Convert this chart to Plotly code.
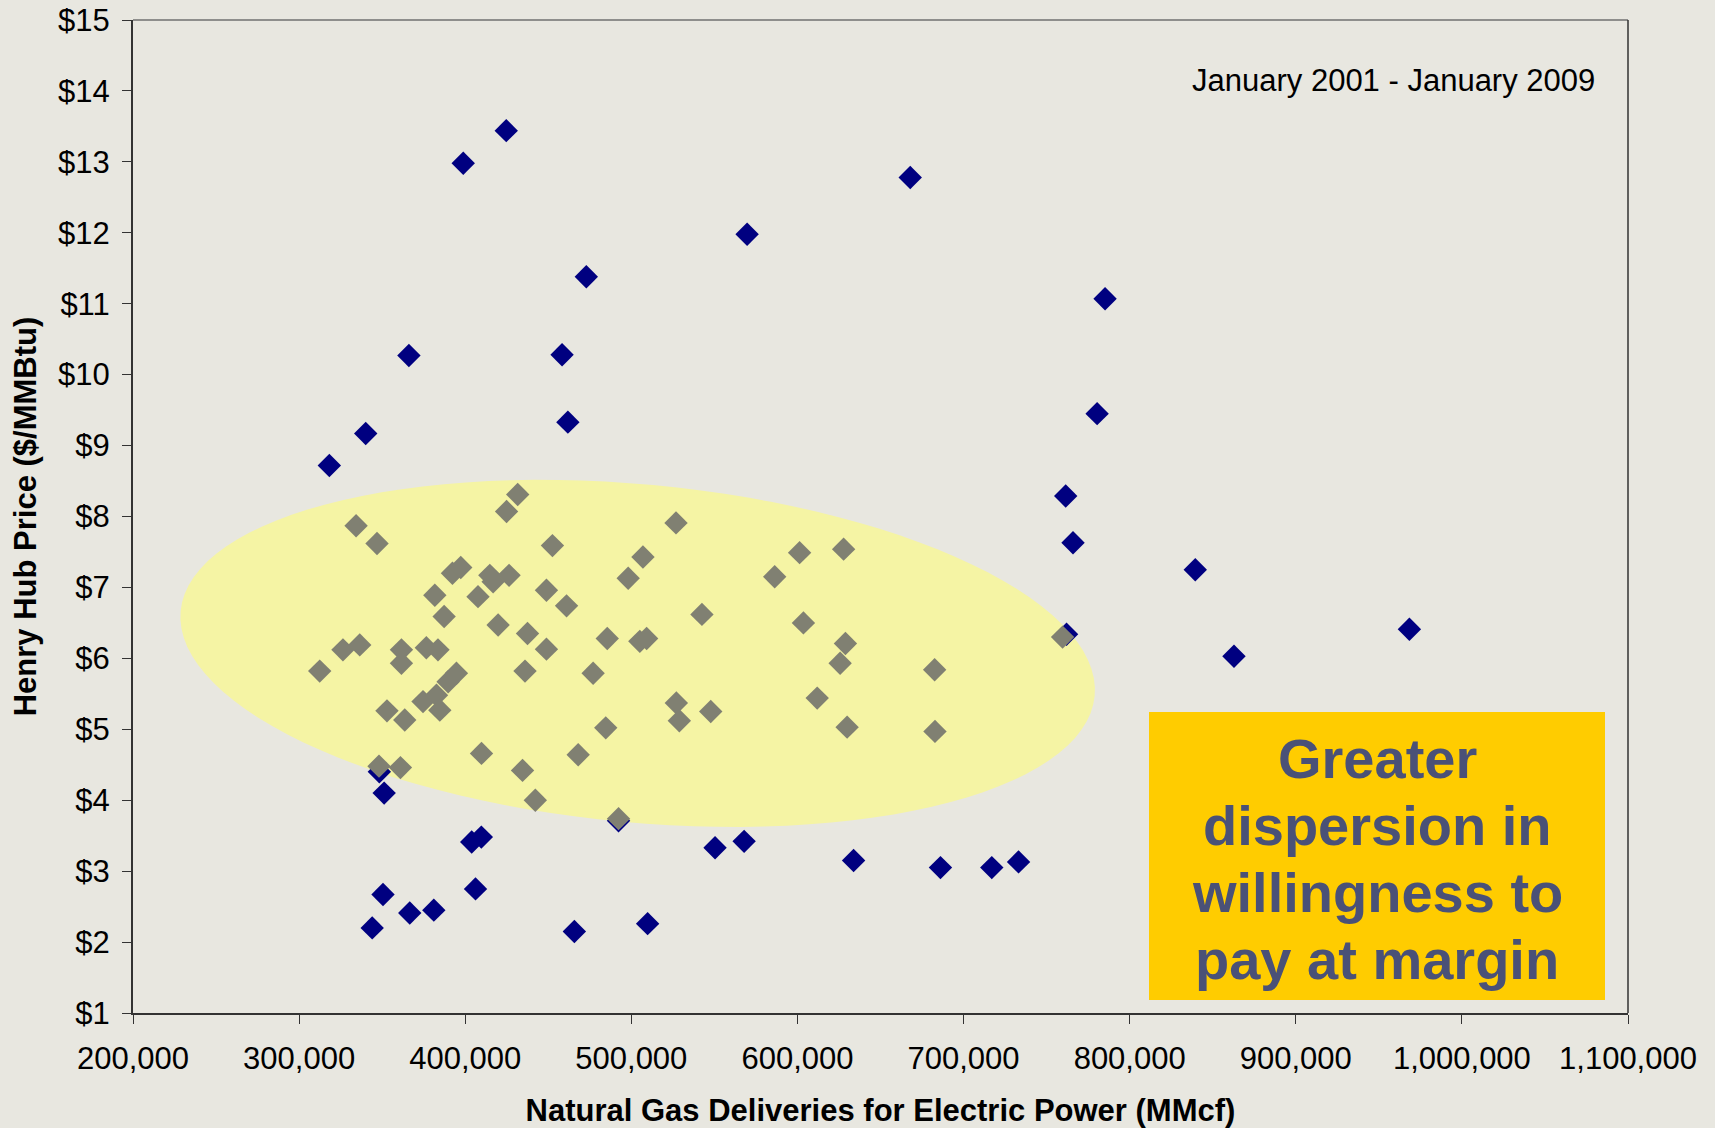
import math
import plotly.graph_objects as go

# months with prices far from the typical band (navy diamonds)
navy_x = [318200, 340100, 366100, 398800, 424700, 472900, 458300, 461800, 569700, 667900,
          785200, 780400, 761500, 765900, 762000, 839500, 862800, 968400, 348300, 351200,
          350500, 344000, 366600, 381100, 403900, 409700, 406200, 465700, 509800, 492300,
          550400, 567900, 633800, 686100, 717000, 733100]
navy_y = [8.72, 9.17, 10.27, 12.98, 13.44, 11.38, 10.28, 9.33, 11.98, 12.78,
          11.07, 9.45, 8.29, 7.63, 6.34, 7.25, 6.03, 6.41, 4.40, 4.10,
          2.67, 2.20, 2.41, 2.45, 3.41, 3.48, 2.75, 2.15, 2.26, 3.71,
          3.33, 3.42, 3.15, 3.05, 3.05, 3.13]

# months inside the typical band (gray diamonds)
gray_x = [312400, 326400, 336500, 334300, 346900, 352900, 363600, 361600, 361600, 348100,
          361000, 376600, 383600, 381700, 387300, 392300, 397300, 374600, 382700, 384700,
          389700, 394700, 407700, 414800, 416800, 426400, 419800, 424900, 431600, 452500,
          448900, 461000, 437500, 448900, 436000, 409800, 434500, 442200, 468000, 477000,
          498100, 507000, 526900, 586300, 601300, 627800, 542500, 603600, 485500, 505100,
          509200, 628900, 625700, 682600, 759600, 611900, 527100, 528900, 547800, 484600,
          629900, 682800, 492300]
gray_y = [5.82, 6.12, 6.19, 7.87, 7.62, 5.26, 5.13, 6.12, 5.93, 4.48,
          4.46, 6.15, 6.12, 6.89, 6.59, 7.20, 7.28, 5.39, 5.48, 5.27,
          5.67, 5.79, 6.87, 7.17, 7.08, 7.17, 6.47, 8.07, 8.31, 7.59,
          6.96, 6.74, 6.35, 6.13, 5.82, 4.66, 4.42, 4.00, 4.64, 5.79,
          7.13, 7.43, 7.91, 7.15, 7.49, 7.54, 6.62, 6.50, 6.28, 6.24,
          6.28, 6.21, 5.93, 5.84, 6.30, 5.44, 5.37, 5.12, 5.25, 5.02,
          5.03, 4.97, 3.74]

x_ticks = list(range(200000, 1100001, 100000))
y_ticks = list(range(1, 16))
y_ticktext = [f'${v}' for v in y_ticks]

box_lines = ['Greater', 'dispersion in', 'willingness to', 'pay at margin']

W, H = 1715, 1128
MARGIN = dict(l=133, r=87, t=20, b=115)
X_RANGE = [200000, 1100000]
Y_RANGE = [1, 15]
FONT = 'Liberation Sans, Arial, sans-serif'

# highlight ellipse: centre in data units, half axes in screen px, tilt in degrees
ELL_CX, ELL_CY = 503800, 6.07
ELL_A, ELL_B, ELL_TILT = 459, 169, 5.3

plot_w = W - MARGIN['l'] - MARGIN['r']
plot_h = H - MARGIN['t'] - MARGIN['b']
px_x = plot_w / (X_RANGE[1] - X_RANGE[0])
px_y = plot_h / (Y_RANGE[1] - Y_RANGE[0])


def ellipse_path():
    th = math.radians(ELL_TILT)
    pts = []
    for deg in range(0, 360, 3):
        t = math.radians(deg)
        dx, dy = ELL_A * math.cos(t), ELL_B * math.sin(t)
        rx = dx * math.cos(th) - dy * math.sin(th)
        ry = dx * math.sin(th) + dy * math.cos(th)  # screen px, down is positive
        pts.append((ELL_CX + rx / px_x, ELL_CY - ry / px_y))
    return 'M ' + ' L '.join(f'{x:.1f},{y:.4f}' for x, y in pts) + ' Z'


def paper_y(py):
    return (H - MARGIN['b'] - py) / plot_h


def paper_x(px):
    return (px - MARGIN['l']) / plot_w


fig = go.Figure()
fig.add_trace(go.Scatter(x=navy_x, y=navy_y, mode='markers', name='outside',
                         marker=dict(symbol='diamond', size=18, color='#000080')))
fig.add_trace(go.Scatter(x=gray_x, y=gray_y, mode='markers', name='inside',
                         marker=dict(symbol='diamond', size=18, color='#808072')))

fig.add_shape(type='path', path=ellipse_path(), xref='x', yref='y',
              fillcolor='#F5F4A4', line_width=0, layer='below')

# frame: top edge is a lighter gray, right edge dark
fig.add_shape(type='line', xref='paper', yref='paper', x0=0, x1=1, y0=1, y1=1,
              line=dict(color='#707070', width=1.5))
fig.add_shape(type='line', xref='paper', yref='paper', x0=1, x1=1, y0=0, y1=1,
              line=dict(color='#333333', width=1.5))

# orange call-out box
fig.add_shape(type='rect', xref='paper', yref='paper',
              x0=paper_x(1149), x1=paper_x(1605), y0=paper_y(1000), y1=paper_y(712),
              fillcolor='#FFCC00', line_width=0, layer='above')
for i, line in enumerate(box_lines):
    fig.add_annotation(text=f'<b>{line}</b>', xref='paper', yref='paper',
                       x=paper_x(1377), y=paper_y(758 + 67 * i),
                       xanchor='center', yanchor='middle', showarrow=False,
                       font=dict(family=FONT, size=56, color='#4A5177'))

fig.add_annotation(text='January 2001 - January 2009', xref='paper', yref='paper',
                   x=paper_x(1597), y=paper_y(80), xanchor='right', yanchor='middle',
                   showarrow=False, font=dict(family=FONT, size=31, color='black'))

fig.update_xaxes(range=X_RANGE, tickvals=x_ticks, tickformat=',', ticks='outside',
                 ticklen=9, tickcolor='#333333', showline=True, linecolor='#333333',
                 linewidth=2, showgrid=False, zeroline=False, automargin=False,
                 ticklabelstandoff=8,
                 tickfont=dict(family=FONT, size=31, color='black'),
                 title=dict(text='<b>Natural Gas Deliveries for Electric Power (MMcf)</b>',
                            font=dict(family=FONT, size=31, color='black'), standoff=26))
fig.update_yaxes(range=Y_RANGE, tickvals=y_ticks, ticktext=y_ticktext, ticks='outside',
                 ticklen=9, tickcolor='#333333', showline=True, linecolor='#333333',
                 linewidth=2, showgrid=False, zeroline=False, automargin=False,
                 ticklabelstandoff=6,
                 tickfont=dict(family=FONT, size=31, color='black'),
                 title=dict(text='<b>Henry Hub Price ($/MMBtu)</b>',
                            font=dict(family=FONT, size=31, color='black'), standoff=12))
fig.update_layout(width=W, height=H, margin=MARGIN, showlegend=False,
                  paper_bgcolor='#E8E7E0', plot_bgcolor='#E8E7E0')
fig.write_html('out.html', config={'displayModeBar': False},
               post_script="document.body.style.margin='0';")
